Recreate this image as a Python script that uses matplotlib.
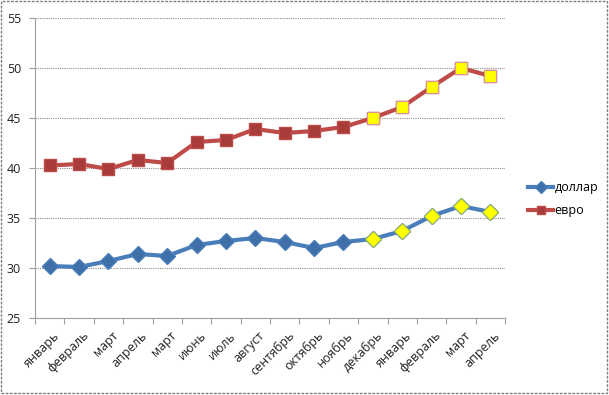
import matplotlib.pyplot as plt
from matplotlib.patches import Rectangle
from matplotlib.lines import Line2D
from matplotlib.transforms import ScaledTranslation

plt.rcParams['font.family'] = ['Open Sans', 'DejaVu Sans']

months = ['январь', 'февраль', 'март', 'апрель', 'март', 'июнь', 'июль', 'август',
          'сентябрь', 'октябрь', 'ноябрь', 'декабрь', 'январь', 'февраль', 'март', 'апрель']
dollar = [30.2, 30.1, 30.7, 31.4, 31.2, 32.3, 32.7, 33.0, 32.6, 32.0, 32.6, 32.9, 33.7, 35.2, 36.2, 35.6]
euro = [40.25, 40.4, 39.9, 40.8, 40.5, 42.6, 42.8, 43.9, 43.5, 43.7, 44.1, 45.0, 46.1, 48.1, 50.0, 49.2]
highlight_from = 11  # yellow markers from декабрь onward

blue = '#4A7EBB'
red = '#BE4B48'

fig = plt.figure(figsize=(6.09, 3.95), dpi=100)
ax = fig.add_axes([35/609, 1-318/395, 470/609, 300/395])

x = list(range(len(months)))
ax.plot(x, dollar, color=blue, lw=3, marker='D', ms=8, mfc='#3F6FA8', mec=blue, zorder=3)
ax.plot(x, euro, color=red, lw=3, marker='s', ms=8, mfc='#A83C3A', mec=red, zorder=3)
hx = x[highlight_from:]
ax.plot(hx, dollar[highlight_from:], ls='none', marker='D', ms=8, mfc='#FFFF00', mec='#9BBB59', mew=0.8, zorder=4)
ax.plot(hx, euro[highlight_from:], ls='none', marker='s', ms=8, mfc='#FFFF00', mec='#D99694', mew=0.8, zorder=4)

ax.set_xlim(-0.5, len(months) - 0.5)
ax.set_ylim(25, 55)
ax.set_yticks(range(25, 56, 5))
ax.grid(axis='y', color='#8C8C8C', ls=(0, (1, 1)), lw=0.8)
ax.set_axisbelow(True)
for s in ['top', 'right']:
    ax.spines[s].set_visible(False)
ax.spines['left'].set_color('#A0A0A0')
ax.spines['bottom'].set_color('#A0A0A0')

ax.set_xticks([i - 0.5 for i in range(len(months) + 1)])
ax.set_xticklabels([])
ax.set_xticks(x, minor=True)
ax.set_xticklabels(months, minor=True, rotation=45, ha='right', va='top',
                   rotation_mode='anchor', fontsize=9, color='#222222')
ax.tick_params(axis='x', which='minor', length=0, pad=8)
ax.tick_params(axis='x', which='major', length=4, color='#A0A0A0')
ax.tick_params(axis='y', length=4, color='#A0A0A0', labelsize=9, labelcolor='#222222', pad=6)
shift = ScaledTranslation(3/100, 0, fig.dpi_scale_trans)
for lbl in ax.get_xticklabels(minor=True):
    lbl.set_transform(lbl.get_transform() + shift)

handles = [Line2D([], [], color=blue, lw=3, marker='D', ms=6, mfc='#3F6FA8', mec=blue),
           Line2D([], [], color=red, lw=3, marker='s', ms=6, mfc='#A83C3A', mec=red)]
fig.legend(handles, ['доллар', 'евро'], loc='upper left', bbox_to_anchor=(517/609, 1-170/395),
           frameon=False, fontsize=9, handlelength=2.0, handletextpad=0.1, labelspacing=0.8)

fig.patches.append(Rectangle((0.002, 0.004), 0.994, 0.993, transform=fig.transFigure,
                             fill=False, ec='#808080', lw=1, ls=(0, (2, 1))))

fig.savefig('out.png', dpi=100)
